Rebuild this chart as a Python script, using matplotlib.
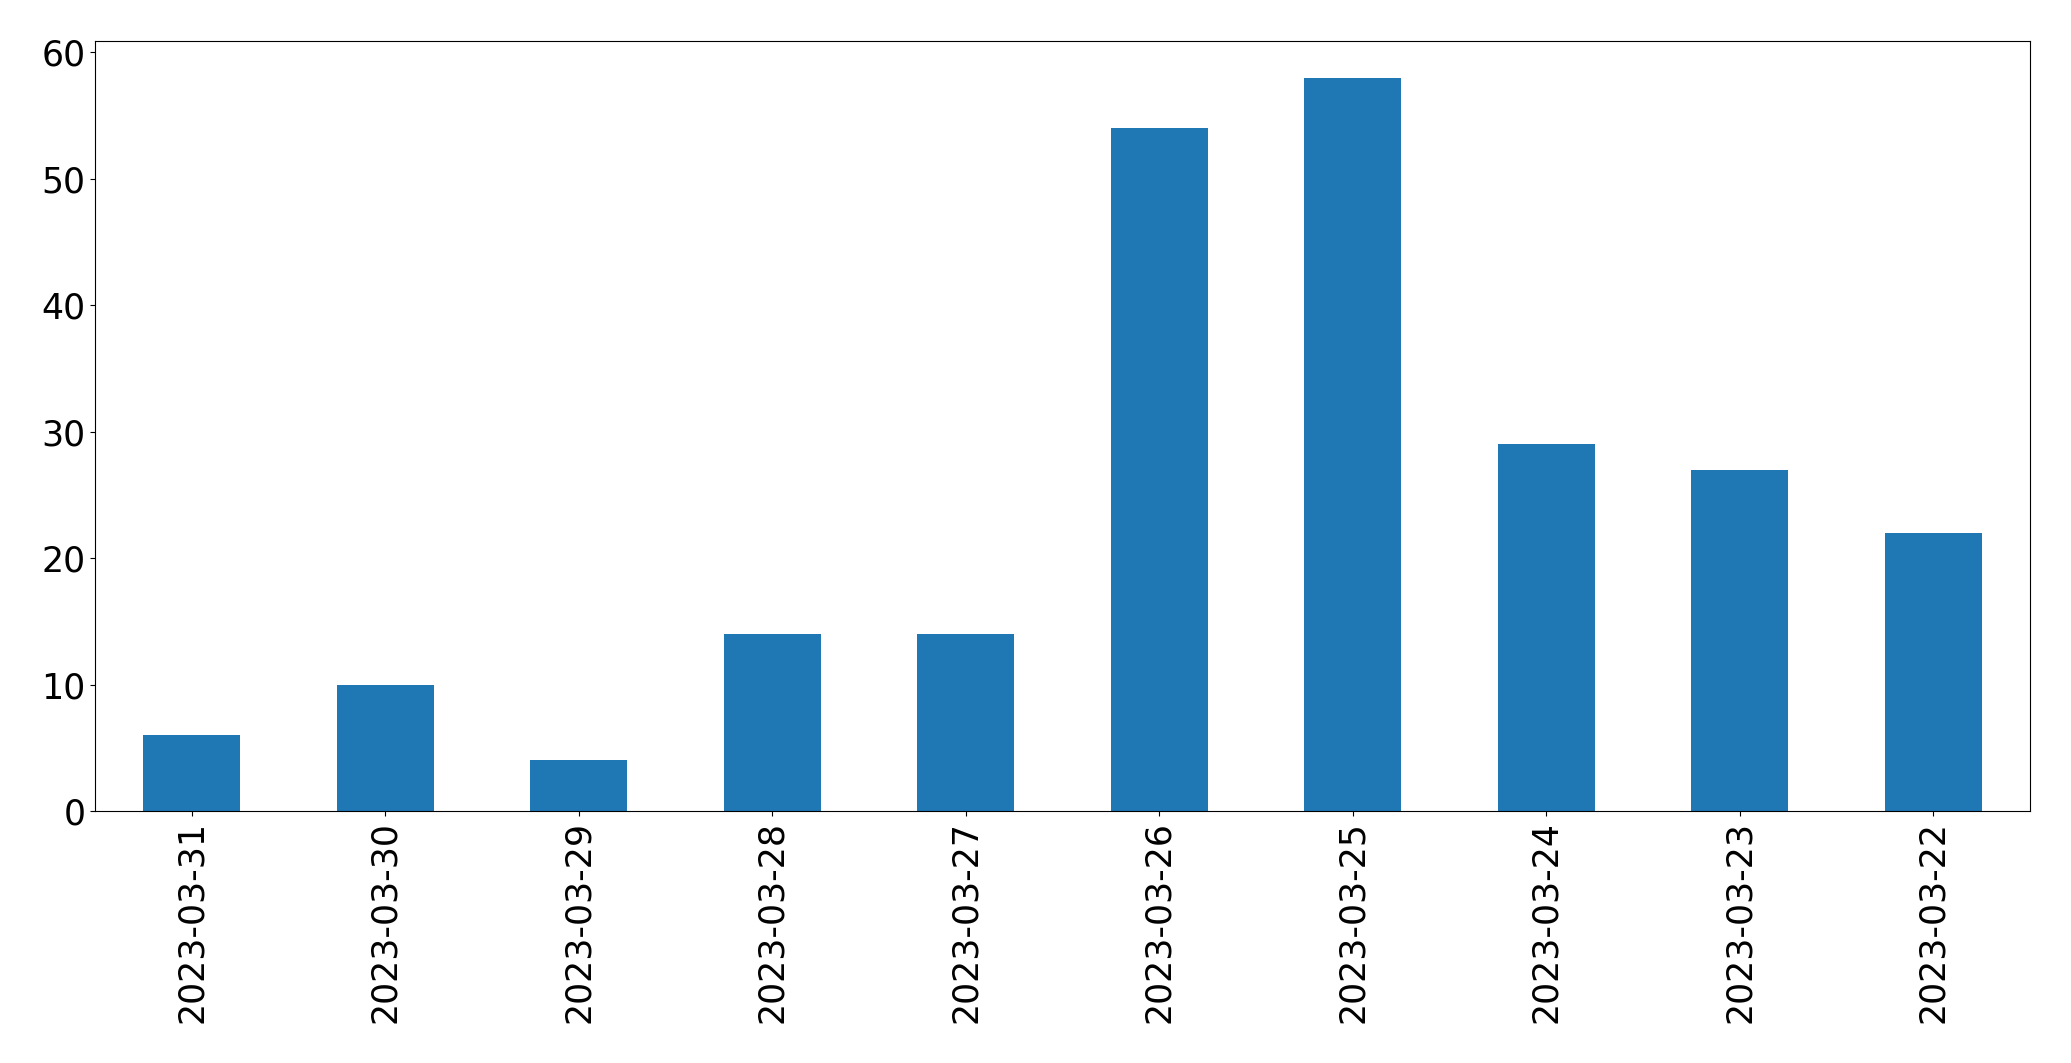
import numpy as np
import matplotlib.pyplot as plt

# fechas y conteos
fechas = ['2023-03-31', '2023-03-30', '2023-03-29', '2023-03-28', '2023-03-27',
          '2023-03-26', '2023-03-25', '2023-03-24', '2023-03-23', '2023-03-22']
conteos = [6, 10, 4, 14, 14, 54, 58, 29, 27, 22]

fig = plt.figure(figsize=(20.71, 10.63), dpi=100)
ax = fig.add_axes([95 / 2071, 1 - 811 / 1063, (2030 - 95) / 2071, (811 - 41) / 1063])

x = np.arange(len(fechas))
ax.bar(x, conteos, width=0.5, color='#1f77b4')
ax.set_xlim(-0.5, len(fechas) - 0.5)
ax.set_xticks(x)
ax.set_xticklabels(fechas, rotation=90)
ax.tick_params(labelsize=25)

fig.savefig('out.png', dpi=100)
